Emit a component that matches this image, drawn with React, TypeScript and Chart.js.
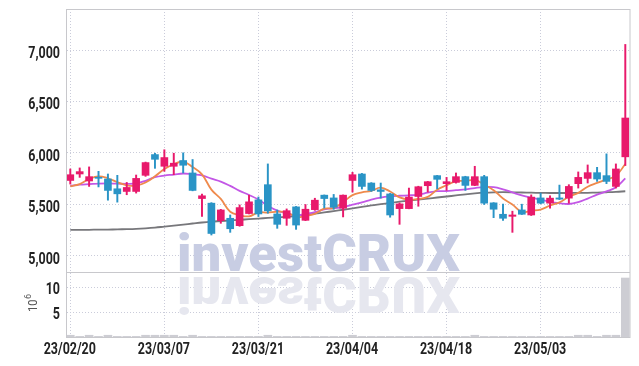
import React, { useEffect, useRef } from 'react';
import { Chart, registerables } from 'chart.js';

Chart.register(...registerables);

const dates = [
  '23/02/20', '23/02/21', '23/02/22', '23/02/23', '23/02/24', '23/02/27', '23/02/28', '23/03/02', '23/03/03', '23/03/06',
  '23/03/07', '23/03/08', '23/03/09', '23/03/10', '23/03/13', '23/03/14', '23/03/15', '23/03/16', '23/03/17', '23/03/20',
  '23/03/21', '23/03/22', '23/03/23', '23/03/24', '23/03/27', '23/03/28', '23/03/29', '23/03/30', '23/03/31', '23/04/03',
  '23/04/04', '23/04/05', '23/04/06', '23/04/07', '23/04/10', '23/04/11', '23/04/12', '23/04/13', '23/04/14', '23/04/17',
  '23/04/18', '23/04/19', '23/04/20', '23/04/21', '23/04/24', '23/04/25', '23/04/26', '23/04/27', '23/04/28', '23/05/02',
  '23/05/03', '23/05/04', '23/05/08', '23/05/09', '23/05/10', '23/05/11', '23/05/12', '23/05/15', '23/05/16', '23/05/17',
];

const opens = [
  5731, 5794, 5726, 5762, 5745, 5650, 5624, 5624, 5781, 5983,
  5869, 5869, 5925, 5804, 5555, 5510, 5340, 5363, 5291, 5409,
  5542, 5690, 5405, 5363, 5474, 5343, 5447, 5588, 5561, 5461,
  5731, 5794, 5706, 5640, 5600, 5457, 5457, 5575, 5680, 5778,
  5700, 5712, 5768, 5683, 5768, 5513, 5402, 5382, 5444, 5395,
  5561, 5510, 5561, 5559, 5700, 5751, 5807, 5778, 5673, 5961,
];
const highs = [
  5843, 5853, 5863, 5820, 5794, 5781, 5712, 5784, 5910, 5996,
  6030, 5996, 6000, 5935, 5598, 5515, 5450, 5395, 5493, 5588,
  5570, 5892, 5444, 5454, 5478, 5497, 5558, 5590, 5595, 5590,
  5810, 5800, 5710, 5706, 5605, 5513, 5657, 5675, 5722, 5780,
  5761, 5804, 5772, 5869, 5781, 5515, 5500, 5432, 5500, 5591,
  5608, 5582, 5686, 5690, 5814, 5882, 5859, 5990, 5892, 7055,
];
const lows = [
  5696, 5761, 5673, 5668, 5539, 5520, 5592, 5608, 5771, 5849,
  5820, 5787, 5804, 5630, 5380, 5200, 5314, 5226, 5285, 5405,
  5380, 5412, 5265, 5294, 5255, 5340, 5440, 5463, 5450, 5376,
  5618, 5647, 5624, 5559, 5373, 5304, 5455, 5480, 5618, 5650,
  5634, 5705, 5634, 5680, 5497, 5369, 5343, 5226, 5400, 5390,
  5505, 5461, 5545, 5510, 5657, 5706, 5722, 5700, 5657, 5876,
];
const closes = [
  5787, 5817, 5768, 5752, 5634, 5601, 5663, 5751, 5905, 5937,
  5954, 5899, 5879, 5634, 5582, 5215, 5444, 5261, 5467, 5523,
  5405, 5435, 5304, 5437, 5297, 5451, 5539, 5555, 5470, 5588,
  5787, 5673, 5634, 5624, 5395, 5503, 5569, 5670, 5719, 5742,
  5719, 5768, 5683, 5768, 5510, 5451, 5363, 5395, 5402, 5569,
  5510, 5559, 5549, 5673, 5761, 5807, 5745, 5722, 5843, 6339,
];

const ma5 = [
  5673, 5696, 5745, 5771, 5752, 5714, 5684, 5680, 5711, 5771,
  5842, 5889, 5915, 5861, 5790, 5642, 5551, 5427, 5394, 5382,
  5420, 5418, 5427, 5421, 5376, 5385, 5406, 5456, 5462, 5521,
  5588, 5615, 5630, 5661, 5623, 5566, 5545, 5552, 5571, 5641,
  5684, 5724, 5726, 5736, 5690, 5636, 5555, 5497, 5424, 5436,
  5448, 5487, 5518, 5572, 5610, 5670, 5707, 5742, 5776, 5891,
];
const ma10 = [
  5680, 5690, 5695, 5700, 5702, 5700, 5698, 5702, 5728, 5763,
  5779, 5788, 5799, 5790, 5780, 5748, 5720, 5678, 5630, 5590,
  5545, 5485, 5438, 5412, 5390, 5405, 5422, 5450, 5462, 5472,
  5495, 5518, 5545, 5565, 5576, 5582, 5586, 5594, 5612, 5627,
  5628, 5637, 5644, 5657, 5667, 5666, 5645, 5615, 5585, 5564,
  5543, 5523, 5510, 5502, 5520, 5555, 5593, 5625, 5665, 5751,
];
const ma60 = [
  5250, 5250, 5251, 5252, 5253, 5255, 5257, 5260, 5265, 5272,
  5282, 5292, 5302, 5312, 5322, 5330, 5336, 5342, 5348, 5354,
  5360, 5366, 5372, 5378, 5385, 5396, 5408, 5420, 5433, 5446,
  5460, 5474, 5488, 5500, 5512, 5524, 5535, 5545, 5555, 5565,
  5575, 5585, 5596, 5605, 5612, 5616, 5617, 5616, 5614, 5612,
  5610, 5609, 5609, 5609, 5610, 5611, 5613, 5616, 5620, 5626,
];

const volumes = [
  0.35, 0.12, 0.35, 0.12, 0.35, 0.12, 0.12, 0.12, 0.35, 0.35,
  0.35, 0.35, 0.12, 0.35, 0.12, 0.12, 0.12, 0.12, 0.12, 0.12,
  0.12, 0.35, 0.12, 0.12, 0.12, 0.12, 0.12, 0.12, 0.12, 0.12,
  0.35, 0.12, 0.12, 0.12, 0.12, 0.12, 0.12, 0.12, 0.12, 0.12,
  0.12, 0.12, 0.12, 0.35, 0.12, 0.12, 0.12, 0.12, 0.12, 0.12,
  0.12, 0.12, 0.12, 0.12, 0.35, 0.35, 0.12, 0.35, 0.35, 11.8,
];

const xTickIndex = [0, 10, 20, 30, 40, 50];
const priceTicks = [5000, 5500, 6000, 6500, 7000];
const volumeTicks = [5, 10];

const UP = '#e8196b';
const DOWN = '#2a94c6';
const GRID = '#caccda';
const LABEL_FONT = 'bold 16px Roboto, "Liberation Sans", "DejaVu Sans", sans-serif';
const SQUEEZE = 0.78;

function drawSqueezed(ctx: any, text: string, x: number, y: number, align: 'right' | 'center') {
  ctx.save();
  ctx.translate(x, y);
  ctx.scale(SQUEEZE, 1);
  ctx.textAlign = align;
  ctx.textBaseline = 'alphabetic';
  ctx.fillText(text, 0, 0);
  ctx.restore();
}

const framePlugin = {
  id: 'frame',
  beforeDatasetsDraw(chart: any) {
    const { ctx } = chart;
    ctx.save();
    ctx.font = '900 52px Roboto, "DejaVu Sans", sans-serif';
    const text = 'investCRUX';
    const w = ctx.measureText(text).width;
    const sx = 283 / w;
    ctx.textBaseline = 'alphabetic';
    ctx.save();
    ctx.translate(177, 270.5);
    ctx.scale(sx, 1);
    ctx.fillStyle = '#c8cde3';
    ctx.fillText(text, 0, 0);
    ctx.restore();
    ctx.save();
    ctx.translate(177, 276.5);
    ctx.scale(sx, -0.95);
    ctx.fillStyle = '#e6e7ef';
    ctx.fillText(text, 0, 0);
    ctx.restore();
    ctx.restore();
  },
  afterDraw(chart: any) {
    const { ctx, chartArea, scales } = chart;
    ctx.save();
    ctx.strokeStyle = '#c8c8cc';
    ctx.lineWidth = 1;
    ctx.strokeRect(chartArea.left - 0.5, chartArea.top + 0.5, chartArea.right - chartArea.left + 0.5, chartArea.bottom - chartArea.top);
    const sep = Math.round(scales.y.bottom) + 0.5;
    ctx.beginPath();
    ctx.moveTo(chartArea.left, sep);
    ctx.lineTo(chartArea.right, sep);
    ctx.stroke();

    // tick labels
    ctx.fillStyle = '#222';
    ctx.font = LABEL_FONT;
    priceTicks.forEach((v) => {
      const y = scales.y.getPixelForValue(v);
      drawSqueezed(ctx, v.toLocaleString('en-US'), 60, y + 8, 'right');
    });
    volumeTicks.forEach((v) => {
      const y = scales.vol.getPixelForValue(v);
      drawSqueezed(ctx, String(v), 60, y + 6.5, 'right');
    });
    xTickIndex.forEach((i) => {
      const x = scales.x.getPixelForValue(i);
      drawSqueezed(ctx, dates[i], x - 0.5, 354, 'center');
    });

    // volume exponent label
    ctx.translate(37, 312);
    ctx.rotate(-Math.PI / 2);
    ctx.fillStyle = '#555';
    ctx.textBaseline = 'alphabetic';
    ctx.font = '13px Roboto, "DejaVu Sans", sans-serif';
    ctx.save();
    ctx.scale(0.85, 1);
    ctx.fillText('10', 0, 0);
    const tw = ctx.measureText('10').width * 0.85;
    ctx.restore();
    ctx.font = '9px Roboto, "DejaVu Sans", sans-serif';
    ctx.fillText('6', tw + 0.5, -6);
    ctx.restore();
  },
};

export default function App() {
  const ref = useRef<HTMLCanvasElement>(null);

  useEffect(() => {
    document.body.style.margin = '0';
    const canvas = ref.current;
    if (!canvas) return;
    const colors = opens.map((o, i) => (closes[i] >= o ? UP : DOWN));

    const chart = new Chart(canvas, {
      type: 'bar',
      data: {
        datasets: [
          {
            type: 'bar',
            label: 'body',
            data: opens.map((o, i) => ({ x: i, y: [o, closes[i]] })) as any,
            backgroundColor: colors,
            borderWidth: 0,
            barThickness: 7,
            grouped: false,
            yAxisID: 'y',
            order: 0,
          },
          {
            type: 'bar',
            label: 'wick',
            data: lows.map((l, i) => ({ x: i, y: [l, highs[i]] })) as any,
            backgroundColor: colors,
            borderWidth: 0,
            barThickness: 1.3,
            grouped: false,
            yAxisID: 'y',
            order: 1,
          },
          {
            type: 'line',
            label: 'MA5',
            data: ma5.map((v, i) => ({ x: i, y: v })),
            borderColor: '#ef8a4c',
            borderWidth: 1.8,
            pointRadius: 0,
            tension: 0.4,
            yAxisID: 'y',
            order: 2,
          },
          {
            type: 'line',
            label: 'MA10',
            data: ma10.map((v, i) => ({ x: i, y: v })),
            borderColor: '#c357e6',
            borderWidth: 1.8,
            pointRadius: 0,
            tension: 0.4,
            yAxisID: 'y',
            order: 3,
          },
          {
            type: 'line',
            label: 'MA60',
            data: ma60.map((v, i) => ({ x: i, y: v })),
            borderColor: '#77777b',
            borderWidth: 1.8,
            pointRadius: 0,
            tension: 0.4,
            yAxisID: 'y',
            order: 4,
          },
          {
            type: 'bar',
            label: 'volume',
            data: volumes.map((v, i) => ({ x: i, y: v })),
            backgroundColor: '#cdcdd3',
            borderWidth: 0,
            barThickness: 8,
            grouped: false,
            yAxisID: 'vol',
            order: 5,
          },
        ] as any,
      },
      options: {
        animation: false,
        responsive: false,
        maintainAspectRatio: false,
        layout: { padding: { top: 9, right: 9, left: 0, bottom: 0 } },
        plugins: { legend: { display: false }, tooltip: { enabled: false } },
        scales: {
          vol: {
            type: 'linear',
            position: 'left',
            stack: 'main',
            stackWeight: 65,
            min: 0,
            max: 13,
            afterFit: (s: any) => { s.width = 67; },
            afterBuildTicks: (s: any) => { s.ticks = volumeTicks.map((v) => ({ value: v })); },
            ticks: { display: false },
            grid: { drawTicks: false, color: GRID },
            border: { display: false, dash: [1, 2] },
          },
          y: {
            type: 'linear',
            position: 'left',
            stack: 'main',
            stackWeight: 263,
            min: 4840,
            max: 7400,
            afterFit: (s: any) => { s.width = 67; },
            afterBuildTicks: (s: any) => { s.ticks = priceTicks.map((v) => ({ value: v })); },
            ticks: { display: false },
            grid: { drawTicks: false, color: GRID },
            border: { display: false, dash: [1, 2] },
          },
          x: {
            type: 'linear',
            position: 'bottom',
            offset: false,
            min: -0.35,
            max: 59.5,
            afterFit: (s: any) => { s.height = 29; },
            afterBuildTicks: (s: any) => { s.ticks = xTickIndex.map((v) => ({ value: v })); },
            ticks: { display: false },
            grid: { drawTicks: false, color: GRID, offset: false },
            border: { display: false, dash: [1, 2] },
          },
        },
      } as any,
      plugins: [framePlugin],
    });

    return () => chart.destroy();
  }, []);

  return (
    <div style={{ width: 639, height: 366 }}>
      <canvas ref={ref} width={639} height={366} style={{ display: 'block' }} />
    </div>
  );
}
